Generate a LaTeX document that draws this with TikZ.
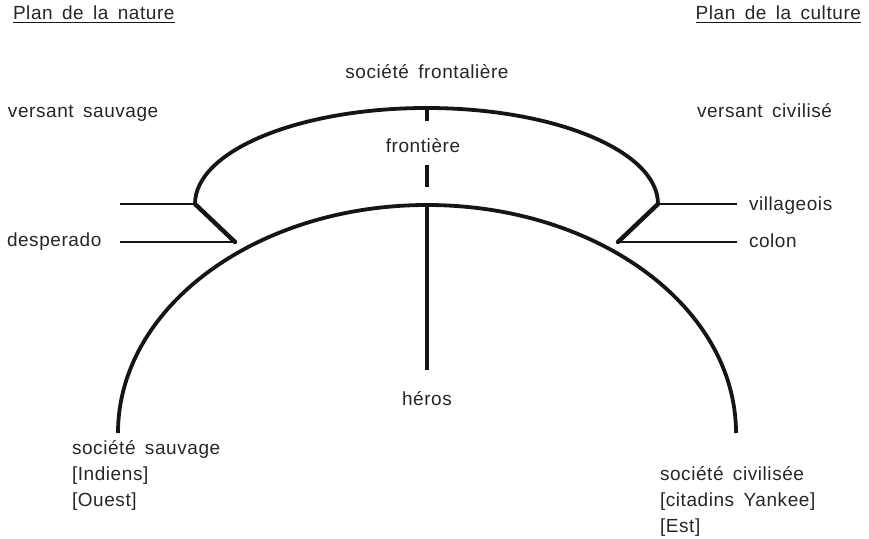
\documentclass[tikz,border=0pt]{standalone}
\usepackage{fontspec}
\setmainfont{Liberation Sans}[LetterSpace=3, WordSpace=1.6]
\definecolor{ink}{HTML}{151515}
\definecolor{txt}{HTML}{262626}
\begin{document}
\begin{tikzpicture}[x=1pt,y=1pt,
  lbl/.style={inner sep=0pt, outer sep=0pt, text=txt, font=\fontsize{19}{22}\selectfont},
  thickline/.style={draw=ink, line width=3.8pt},
  diag/.style={draw=ink, line width=4.4pt, line cap=round},
  thinline/.style={draw=ink, line width=1.7pt},
  bar/.style={draw=ink, line width=3.2pt}]
\useasboundingbox (0,0) rectangle (869,538);
% key points
\coordinate (JL) at (195,334);
\coordinate (JR) at (658,334);
\coordinate (KL) at (235,296);
\coordinate (KR) at (618,296);
\coordinate (LL1) at (120,334);
\coordinate (LL2) at (120,296);
\coordinate (RR1) at (737,334);
\coordinate (RR2) at (737,296);
\coordinate (UT) at (427,430);
\coordinate (LT) at (427,333);
\coordinate (ULs) at (118,105);
% arcs
\draw[thickline] (JL) arc[start angle=180, end angle=0, x radius=231.5, y radius=96];
\draw[thickline] (ULs) arc[start angle=180, end angle=0, x radius=309, y radius=228];
% junction lines
\draw[thinline] (LL1) -- (JL);
\draw[thinline] (LL2) -- (KL);
\draw[diag] (JL) -- (KL);
\draw[thinline] (JR) -- (RR1);
\draw[thinline] (KR) -- (RR2);
\draw[diag] (JR) -- (KR);
% vertical axis
\coordinate (V1) at (427,417);
\coordinate (V2) at (427,373);
\coordinate (V3) at (427,351);
\coordinate (V4) at (427,168);
\draw[bar] (UT) -- (V1);
\draw[bar] (V2) -- (V3);
\draw[bar] (LT) -- (V4);
% labels
\node[lbl, anchor=base west] (pn) at (13,518) {Plan de la nature};
\node[lbl, anchor=base east] (pc) at (861,518) {Plan de la culture};
\draw[thinline, line width=1.4pt] ([yshift=-2.5pt]pn.base west) -- ([yshift=-2.5pt]pn.base east);
\draw[thinline, line width=1.4pt] ([yshift=-2.5pt]pc.base west) -- ([yshift=-2.5pt]pc.base east);
\node[lbl, anchor=base] (sf) at (427,459) {société frontalière};
\node[lbl, anchor=base west] (vs) at (8,420) {versant sauvage};
\node[lbl, anchor=base west] (vc) at (697,420) {versant civilisé};
\node[lbl, anchor=base] (fr) at (423,385) {frontière};
\node[lbl, anchor=base west] (vi) at (749,327) {villageois};
\node[lbl, anchor=base west] (co) at (749,290) {colon};
\node[lbl, anchor=base west] (de) at (7,291) {desperado};
\node[lbl, anchor=base] (he) at (427,132) {héros};
\node[lbl, anchor=base west] (ss1) at (72,84) {société sauvage};
\node[lbl, anchor=base west] (ss2) at (72,58) {[Indiens]};
\node[lbl, anchor=base west] (ss3) at (72,32) {[Ouest]};
\node[lbl, anchor=base west] (sc1) at (660,58) {société civilisée};
\node[lbl, anchor=base west] (sc2) at (660,32) {[citadins Yankee]};
\node[lbl, anchor=base west] (sc3) at (660,6) {[Est]};
\end{tikzpicture}
\end{document}
